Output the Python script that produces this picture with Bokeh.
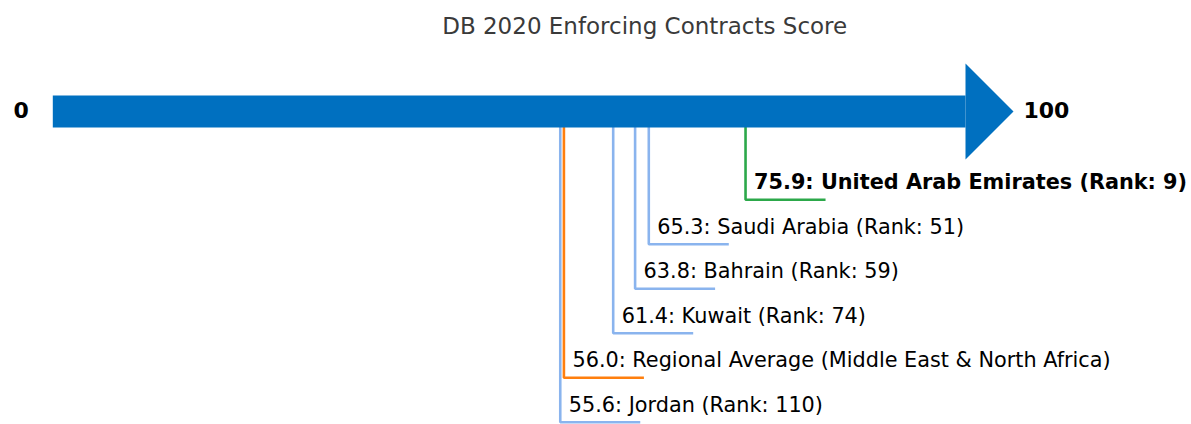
from bokeh.plotting import figure
from bokeh.models import Range1d
from bokeh.embed import file_html
from bokeh.resources import INLINE
from bokeh.core.properties import value

# ---- data ----
names = ["United Arab Emirates", "Saudi Arabia", "Bahrain", "Kuwait",
         "Regional Average (Middle East & North Africa)", "Jordan"]
scores = [75.9, 65.3, 63.8, 61.4, 56.0, 55.6]
ranks = [9, 51, 59, 74, None, 110]
kinds = ["focus", "peer", "peer", "peer", "average", "peer"]
title_text = "DB 2020 Enforcing Contracts Score"
scale_min, scale_max = 0, 100

# ---- styling ----
kind_color = {"focus": "#2ca84a", "peer": "#8ab4ee", "average": "#ff7f0e"}
kind_weight = {"focus": "bold", "peer": "normal", "average": "normal"}
arrow_color = "#0070c0"
FONT = "DejaVu Sans"

W, H = 1191, 424
px_per_unit = 9.127
x0 = -52.3 / px_per_unit
p = figure(width=W, height=H, output_backend="svg", toolbar_location=None,
           x_range=Range1d(x0, x0 + W / px_per_unit),
           y_range=Range1d(H, 0), min_border=0)
p.axis.visible = False
p.grid.visible = False
p.outline_line_color = None
p.background_fill_color = "white"

arrow_y = 111
body_half = 16
head_half = 48
head_len = 48 / px_per_unit
level0 = 199.3
step = 44.5
seg_len = 80 / px_per_unit
text_dx = 8.5 / px_per_unit

labels = []
for n, s, r in zip(names, scores, ranks):
    if r is None:
        labels.append(f"{s:.1f}: {n}")
    else:
        labels.append(f"{s:.1f}: {n} (Rank: {r})")

for i, (s, k, lab) in enumerate(zip(scores, kinds, labels)):
    yl = level0 + i * step
    c = kind_color[k]
    p.line([s, s, s + seg_len], [arrow_y, yl, yl], line_color=c, line_width=2.6)
    p.text(x=[s + text_dx], y=[yl - 17.5], text=[lab],
           text_font=value(FONT), text_font_size="20.8px",
           text_font_style=kind_weight[k], text_color="black",
           text_baseline="alphabetic", text_align="left")

# arrow body + head
p.quad(left=[scale_min], right=[scale_max], top=[arrow_y - body_half],
       bottom=[arrow_y + body_half], fill_color=arrow_color, line_color=None)
p.patch([scale_max, scale_max, scale_max + head_len],
        [arrow_y - head_half, arrow_y + head_half, arrow_y],
        fill_color=arrow_color, line_color=None)

p.text(x=[scale_min - 24 / px_per_unit], y=[arrow_y - 2], text=[str(scale_min)],
       text_font=value(FONT), text_font_size="22px", text_font_style="bold",
       text_color="black", text_baseline="middle", text_align="right")
p.text(x=[scale_max + head_len + 10 / px_per_unit], y=[arrow_y - 2], text=[str(scale_max)],
       text_font=value(FONT), text_font_size="22px", text_font_style="bold",
       text_color="black", text_baseline="middle", text_align="left")

# title
p.text(x=[(644.2 - 52.3) / px_per_unit], y=[25], text=[title_text],
       text_font=value(FONT), text_font_size="23px", text_color="#3a3a3a",
       text_baseline="alphabetic", text_align="center")

open("out.html", "w").write(file_html(p, INLINE))
